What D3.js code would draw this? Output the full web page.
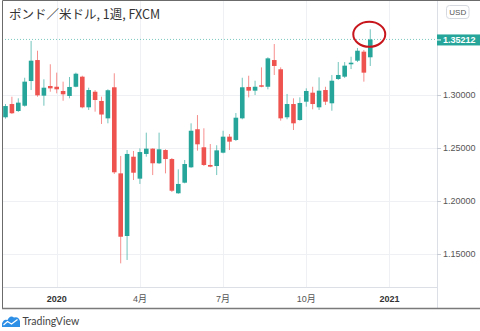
<!DOCTYPE html>
<html><head><meta charset="utf-8">
<script src="https://cdn.jsdelivr.net/npm/d3@7"></script>
<style>
html,body{margin:0;padding:0;background:#fff;}
svg{display:block;}
</style></head><body>
<svg id="chart" width="480" height="331"></svg>
<script>
// ---- data ----
const title = "ポンド／米ドル, 1週, FXCM";
const weeks = ["2019-11-11","2019-11-18","2019-11-25","2019-12-02","2019-12-09","2019-12-16","2019-12-23","2019-12-30",
"2020-01-06","2020-01-13","2020-01-20","2020-01-27","2020-02-03","2020-02-10","2020-02-17","2020-02-24",
"2020-03-02","2020-03-09","2020-03-16","2020-03-23","2020-03-30","2020-04-06","2020-04-13","2020-04-20","2020-04-27",
"2020-05-04","2020-05-11","2020-05-18","2020-05-25","2020-06-01","2020-06-08","2020-06-15","2020-06-22","2020-06-29",
"2020-07-06","2020-07-13","2020-07-20","2020-07-27","2020-08-03","2020-08-10","2020-08-17","2020-08-24","2020-08-31",
"2020-09-07","2020-09-14","2020-09-21","2020-09-28","2020-10-05","2020-10-12","2020-10-19","2020-10-26",
"2020-11-02","2020-11-09","2020-11-16","2020-11-23","2020-11-30","2020-12-07","2020-12-14"];
const opens = [1.2787,1.2912,1.2846,1.2896,1.3129,1.3327,1.2991,1.3082,
1.3075,1.3035,1.2988,1.3075,1.3170,1.2881,1.3028,1.2941,
1.2777,1.3070,1.2258,1.1667,1.2415,1.2208,1.2441,1.2491,1.2353,
1.2478,1.2393,1.2070,1.2170,1.2315,1.2674,1.2504,1.2337,1.2327,
1.2453,1.2604,1.2573,1.2777,1.3073,1.3038,1.3089,1.3075,1.3327,
1.3240,1.2787,1.2912,1.2761,1.2934,1.3019,1.2881,1.3044,
1.2919,1.3148,1.3170,1.3287,1.3321,1.3406,1.3353];
const highs = [1.2912,1.2981,1.2966,1.3160,1.3507,1.3415,1.3145,1.3287,
1.3208,1.3123,1.3167,1.3208,1.3179,1.3066,1.3044,1.2981,
1.3051,1.3202,1.2422,1.2478,1.2469,1.2494,1.2642,1.2494,1.2642,
1.2485,1.2403,1.2296,1.2384,1.2730,1.2808,1.2683,1.2535,1.2523,
1.2660,1.2629,1.2827,1.3160,1.3179,1.3132,1.3258,1.3353,1.3478,
1.3258,1.3007,1.2966,1.2975,1.3060,1.3075,1.3164,1.3075,
1.3186,1.3308,1.3308,1.3358,1.3441,1.3422,1.3617];
const lows = [1.2774,1.2818,1.2837,1.2887,1.3044,1.2981,1.2896,1.3028,
1.3013,1.2943,1.2966,1.3070,1.2872,1.2856,1.2840,1.2724,
1.2730,1.2252,1.1409,1.1441,1.2195,1.2158,1.2415,1.2242,1.2346,
1.2258,1.2082,1.2065,1.2164,1.2310,1.2472,1.2327,1.2315,1.2242,
1.2447,1.2478,1.2563,1.2768,1.2975,1.2997,1.3070,1.3051,1.3186,
1.2755,1.2768,1.2667,1.2755,1.2887,1.2862,1.2856,1.2903,
1.2849,1.3139,1.3158,1.3242,1.3308,1.3123,1.3271];
const closes = [1.2893,1.2825,1.2925,1.3123,1.3321,1.2994,1.3066,1.3060,
1.3051,1.3004,1.3073,1.3198,1.2881,1.3044,1.2950,1.2813,
1.3042,1.2268,1.1660,1.2441,1.2264,1.2459,1.2491,1.2353,1.2485,
1.2393,1.2094,1.2158,1.2346,1.2660,1.2532,1.2337,1.2321,1.2475,
1.2604,1.2557,1.2783,1.3070,1.3038,1.3075,1.3075,1.3343,1.3271,
1.2777,1.2912,1.2730,1.2922,1.3035,1.2912,1.3038,1.2934,
1.3132,1.3186,1.3274,1.3302,1.3415,1.3208,1.35212];
const priceTicks = [1.15, 1.20, 1.25, 1.30];
const timeTickDates = ["2020-01-06","2020-04-06","2020-07-06","2020-10-05","2021-01-04"];
const timeTickLabels = ["2020","4月","7月","10月","2021"];
const timeTickIsYear = [true,false,false,false,true];
const lastPrice = 1.35212;
const currency = "USD";
const brand = "TradingView";

// ---- layout ----
const W = 480, H = 331;
const plotL = 2, plotR = 437, plotT = 0, plotB = 287, frameB = 308;
const UP = "#26a69a", DOWN = "#ef5350";

const parse = d3.utcParse("%Y-%m-%d");
const candles = weeks.map((w,i)=>({d:parse(w),o:opens[i],h:highs[i],l:lows[i],c:closes[i]}));

const x = d3.scaleUtc()
  .domain([new Date(Date.UTC(2019,10,7,4)), new Date(Date.UTC(2021,1,25,0))])
  .range([plotL, plotR]);
const y = d3.scaleLinear().domain([1.15, 1.35]).range([253.7, 41.7]);

const svg = d3.select("#chart");
svg.append("rect").attr("width",W).attr("height",H).attr("fill","#fff");

const defs = svg.append("defs");
defs.append("clipPath").attr("id","plotclip").append("rect")
  .attr("x",plotL).attr("y",plotT).attr("width",plotR-plotL).attr("height",plotB-plotT);

// grid
const grid = svg.append("g");
grid.selectAll("line.v").data(timeTickDates).join("line")
  .attr("x1",d=>Math.round(x(parse(d)))+0.5).attr("x2",d=>Math.round(x(parse(d)))+0.5)
  .attr("y1",plotT).attr("y2",plotB).attr("stroke","#eef0f3").attr("stroke-width",1);
grid.selectAll("line.h").data(priceTicks).join("line")
  .attr("x1",plotL).attr("x2",plotR)
  .attr("y1",d=>Math.round(y(d))+0.5).attr("y2",d=>Math.round(y(d))+0.5)
  .attr("stroke","#eef0f3").attr("stroke-width",1);

// axis separators
svg.append("line").attr("x1",plotR+0.5).attr("x2",plotR+0.5).attr("y1",0).attr("y2",frameB)
  .attr("stroke","#dcdfe6");
svg.append("line").attr("x1",plotL).attr("x2",plotR).attr("y1",plotB+0.5).attr("y2",plotB+0.5)
  .attr("stroke","#dcdfe6");

// last price dotted line
svg.append("line").attr("x1",plotL).attr("x2",plotR)
  .attr("y1",y(lastPrice)).attr("y2",y(lastPrice))
  .attr("stroke",UP).attr("stroke-opacity",0.6).attr("stroke-dasharray","1,2");

// candles
const cg = svg.append("g").attr("clip-path","url(#plotclip)");
const bw = 4.6;
cg.selectAll("line.wick").data(candles).join("line")
  .attr("x1",d=>x(d.d)).attr("x2",d=>x(d.d))
  .attr("y1",d=>y(d.h)).attr("y2",d=>y(d.l))
  .attr("stroke",d=>d.c>=d.o?UP:DOWN).attr("stroke-opacity",0.65).attr("stroke-width",1);
cg.selectAll("rect.body").data(candles).join("rect")
  .attr("x",d=>x(d.d)-bw/2).attr("width",bw)
  .attr("y",d=>y(Math.max(d.o,d.c)))
  .attr("height",d=>Math.max(1.2, Math.abs(y(d.o)-y(d.c))))
  .attr("fill",d=>d.c>=d.o?UP:DOWN);

// price axis labels
const pa = svg.append("g");
pa.selectAll("line").data(priceTicks).join("line")
  .attr("x1",plotR).attr("x2",plotR+4)
  .attr("y1",d=>Math.round(y(d))+0.5).attr("y2",d=>Math.round(y(d))+0.5)
  .attr("stroke","#c8ccd4");
pa.selectAll("text").data(priceTicks).join("text")
  .attr("x",443).attr("y",d=>y(d)).attr("dy","0.35em")
  .attr("font-family","Liberation Sans, Arial, sans-serif").attr("font-size",9)
  .attr("fill","#555").text(d=>d3.format(".5f")(d));

// current price label
const ly = y(lastPrice);
svg.append("rect").attr("x",plotR).attr("y",ly-5).attr("width",W-plotR).attr("height",11).attr("fill",UP);
svg.append("line").attr("x1",plotR).attr("x2",plotR+4).attr("y1",ly+0.5).attr("y2",ly+0.5).attr("stroke","#fff");
svg.append("text").attr("x",443).attr("y",ly+0.5).attr("dy","0.35em")
  .attr("font-family","Liberation Sans, Arial, sans-serif").attr("font-size",9).attr("font-weight","bold")
  .attr("fill","#fff").text(d3.format(".5f")(lastPrice));

// time axis labels
svg.append("g").selectAll("text").data(timeTickDates).join("text")
  .attr("x",d=>x(parse(d))).attr("y",299).attr("dy","0.35em").attr("text-anchor","middle")
  .attr("font-family","Liberation Sans, Arial, 'Noto Sans CJK JP', sans-serif").attr("font-size",9)
  .attr("font-weight",(d,i)=>timeTickIsYear[i]?"bold":"normal")
  .attr("fill",(d,i)=>timeTickIsYear[i]?"#333":"#555")
  .text((d,i)=>timeTickLabels[i]);

// red circle annotation around latest candle
const last = candles[candles.length-1];
svg.append("ellipse").attr("cx",x(last.d)-1).attr("cy",y(last.h)+5).attr("rx",16).attr("ry",12.5)
  .attr("fill","none").attr("stroke","#c8161d").attr("stroke-width",2);

// frame
svg.append("path").attr("d",`M${plotL+0.5},${frameB} L${plotL+0.5},0.5 L${W},0.5`)
  .attr("fill","none").attr("stroke","#6b6b6b").attr("stroke-width",1);
svg.append("line").attr("x1",plotL).attr("x2",W).attr("y1",frameB+0.5).attr("y2",frameB+0.5)
  .attr("stroke","#7a7a7a").attr("stroke-width",1.5);

// title
svg.append("text").attr("x",9).attr("y",19)
  .attr("font-family","'Noto Sans CJK JP', sans-serif").attr("font-size",12.5)
  .attr("fill","#333").text(title);

// currency button
svg.append("rect").attr("x",446.5).attr("y",5.5).attr("width",22.5).attr("height",13).attr("rx",3)
  .attr("fill","#fff").attr("stroke","#d6d9df");
svg.append("text").attr("x",457.75).attr("y",12).attr("dy","0.35em").attr("text-anchor","middle")
  .attr("font-family","Liberation Sans, Arial, sans-serif").attr("font-size",8)
  .attr("fill","#555").text(currency);

// brand logo
const lg = svg.append("g");
lg.append("path").attr("d","M2,327 L2,323.5 Q3.5,318.5 7.5,320 Q10,314.5 14,317.5 Q18.5,316 20,321 L20,327 Z")
  .attr("fill","#2e8fe6");
lg.append("path").attr("d","M3.5,325 L7.5,321.5 L11.5,324 L17.5,319.5")
  .attr("fill","none").attr("stroke","#fff").attr("stroke-width",1.2);
svg.append("text").attr("x",22.5).attr("y",325)
  .attr("font-family","Lato, sans-serif").attr("font-size",10.5)
  .attr("fill","#444").text(brand);
</script>
</body></html>
